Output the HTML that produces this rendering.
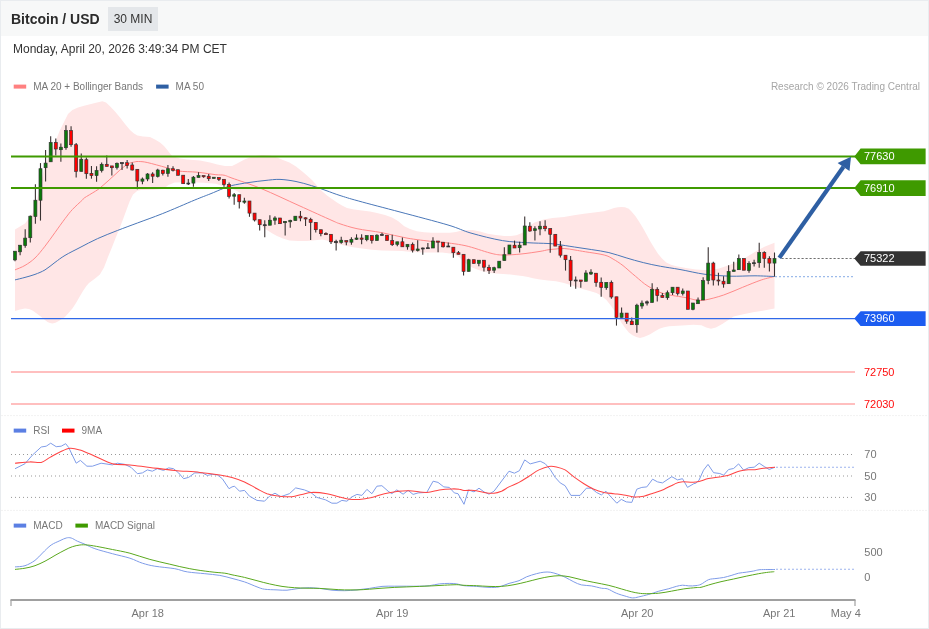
<!DOCTYPE html>
<html><head><meta charset="utf-8"><title>Bitcoin / USD</title>
<style>
html,body{margin:0;padding:0;background:#fff;}
#title,#badge,#date,svg{will-change:transform;}
body{width:929px;height:629px;overflow:hidden;position:relative;font-family:"Liberation Sans",sans-serif;}
#frame{position:absolute;left:0;top:0;width:927px;height:627px;border:1px solid #e9ecef;background:#fff;}
#hdr{position:absolute;left:1px;top:1px;width:927px;height:35px;background:#f7f8f8;}
#title{position:absolute;left:11px;top:11px;font-size:14px;font-weight:bold;color:#2b2b2b;white-space:nowrap;line-height:16px;}
#badge{position:absolute;left:108px;top:7px;width:50px;height:24px;background:#e4e7ea;color:#333;font-size:12px;line-height:25px;text-align:center;white-space:nowrap;}
#date{position:absolute;left:13px;top:42px;font-size:12px;color:#333;white-space:nowrap;line-height:14px;}
svg{position:absolute;left:0;top:0;}
svg text{font-family:"Liberation Sans",sans-serif;}
</style></head><body>
<div id="frame"></div>
<div id="hdr"></div>
<div id="title">Bitcoin / USD</div>
<div id="badge">30 MIN</div>
<div id="date">Monday, April 20, 2026 3:49:34 PM CET</div>
<svg width="929" height="629" viewBox="0 0 929 629">
<polygon points="15.0,229.5 20.0,226.5 25.0,223.5 30.0,217.0 33.0,212.5 37.0,200.0 41.0,182.0 45.0,165.0 50.0,153.0 55.0,142.5 60.0,130.0 65.0,120.0 68.0,114.0 72.4,110.0 78.0,107.5 85.0,105.5 95.0,103.0 102.4,101.2 106.0,102.5 110.0,106.2 115.0,111.5 120.0,117.5 125.0,124.0 130.0,130.0 134.0,133.5 137.4,135.5 143.0,136.5 150.0,137.0 155.0,139.5 160.0,142.5 164.0,146.0 167.3,150.0 170.0,153.5 172.3,156.2 180.0,158.5 187.3,159.4 200.0,160.4 210.0,162.5 217.3,164.4 225.0,166.0 232.0,166.0 238.0,163.0 244.5,159.5 252.0,156.5 262.0,155.0 270.0,155.5 277.0,157.5 283.0,160.0 289.4,162.5 296.0,166.5 302.0,171.2 307.0,175.5 312.0,180.0 316.0,184.5 319.4,188.7 323.0,192.0 327.0,195.4 332.0,199.0 337.0,202.4 342.0,205.5 347.0,208.0 354.0,209.5 362.0,210.4 370.0,211.5 377.0,213.0 385.0,215.0 392.0,217.4 398.0,221.0 404.3,226.2 410.0,229.0 416.8,231.2 424.0,232.3 431.8,232.8 440.0,232.8 450.0,232.8 456.0,232.0 460.7,230.8 466.0,230.2 472.7,230.0 480.0,231.5 487.8,233.8 496.0,235.0 504.4,236.1 511.0,236.0 516.4,235.3 522.5,232.8 528.5,226.3 534.5,222.5 543.6,219.5 552.6,218.0 564.0,217.0 574.0,215.3 584.0,213.7 594.0,212.5 604.0,211.2 609.0,209.8 614.0,208.0 618.0,207.2 621.3,207.0 625.0,207.3 628.8,208.7 631.5,211.5 635.5,216.2 639.0,221.5 642.7,227.5 646.3,234.0 650.2,241.2 654.0,247.5 658.0,253.7 662.0,258.5 666.3,262.4 671.0,264.8 676.3,266.2 686.0,268.0 696.0,269.5 704.0,270.0 711.0,270.0 719.0,268.5 726.5,266.0 734.0,263.3 741.8,260.0 749.0,255.5 757.0,250.8 765.0,246.5 774.5,242.7 774.5,308.6 762.7,310.7 753.0,312.3 743.3,314.2 733.7,316.6 727.2,320.7 722.3,323.9 715.9,327.5 711.0,328.8 706.2,327.5 701.4,325.2 693.3,324.7 682.0,325.5 669.0,326.3 664.0,327.2 659.4,328.8 655.0,331.3 649.7,334.4 643.8,337.0 640.0,338.0 636.3,336.9 632.5,335.3 628.8,332.4 625.0,327.8 621.3,322.4 617.5,316.0 613.9,309.9 610.0,304.5 606.4,299.9 601.0,295.5 596.4,292.9 589.0,290.7 581.4,288.7 572.0,285.5 564.0,283.0 556.0,281.2 548.0,280.6 540.0,279.5 533.0,278.3 528.0,277.0 522.5,276.0 516.0,275.2 510.4,274.5 503.0,274.0 495.3,273.5 489.0,272.7 483.3,271.5 478.0,269.8 472.7,267.7 466.0,263.5 462.0,260.0 459.0,257.0 455.0,254.7 450.0,253.5 442.0,252.4 432.0,252.4 422.0,252.5 412.0,252.0 402.0,251.1 392.0,250.8 382.0,250.4 372.0,249.7 362.0,248.6 353.0,247.2 344.4,245.4 338.0,244.0 332.0,242.4 327.0,240.5 322.0,239.4 315.0,240.3 307.0,241.1 298.0,241.0 289.4,240.4 283.0,238.5 277.0,236.1 272.0,233.3 267.0,230.0 262.0,226.5 257.0,222.4 253.0,218.0 249.5,212.4 244.5,202.0 239.5,192.4 236.0,190.5 232.0,188.7 224.6,186.8 215.9,183.7 203.4,182.7 190.9,182.2 174.7,182.5 168.4,185.0 163.4,189.0 153.5,189.7 141.0,190.0 137.4,190.8 133.0,194.5 129.8,201.0 126.8,209.0 123.7,217.5 119.7,228.0 115.8,237.5 111.7,248.0 107.8,257.4 104.0,267.5 99.9,274.4 96.0,277.8 92.4,280.4 89.0,283.0 86.2,286.2 83.0,291.0 79.9,296.2 76.0,303.0 72.4,308.6 68.5,313.0 64.9,316.9 62.0,319.0 58.7,321.1 55.5,322.8 52.4,323.6 50.0,323.0 47.5,321.9 44.0,319.3 40.0,316.1 36.0,313.0 32.5,310.4 29.0,309.0 25.0,308.6 20.0,309.5 15.0,311.1" fill="#ffe6e6"/>
<path d="M15.0 269.9C16.7 269.1 21.7 267.4 25.0 265.4C28.3 263.4 31.7 261.2 35.0 258.0C38.3 254.8 41.7 250.4 45.0 246.2C48.3 241.9 51.7 237.1 55.0 232.5C58.3 227.9 62.1 222.5 65.0 218.7C67.9 214.9 69.5 212.6 72.4 209.5C75.3 206.4 80.4 201.9 82.4 200.0C84.4 198.1 82.0 199.5 84.2 198.0C86.4 196.5 92.7 192.9 95.4 191.2C98.1 189.5 98.3 189.3 100.4 187.6C102.5 185.9 105.4 183.3 108.0 181.0C110.6 178.7 113.6 175.8 116.0 173.7C118.4 171.5 120.1 169.8 122.2 168.1C124.3 166.4 126.6 164.7 128.5 163.7C130.4 162.7 131.8 162.6 133.5 162.2C135.2 161.8 136.2 161.4 138.5 161.5C140.8 161.6 142.6 161.5 147.2 162.5C151.8 163.5 160.8 166.1 166.0 167.5C171.2 168.9 173.2 170.2 178.4 171.0C183.6 171.8 190.9 171.6 197.2 172.2C203.4 172.8 211.4 174.2 215.9 174.7C220.4 175.2 221.3 174.6 224.0 175.2C226.7 175.8 225.8 175.8 232.0 178.1C238.2 180.3 250.3 184.1 261.5 188.7C272.7 193.3 287.2 200.3 299.0 205.6C310.8 210.9 325.2 217.5 332.0 220.5C338.8 223.5 335.8 222.4 340.0 223.8C344.2 225.2 350.0 227.2 357.0 228.7C364.0 230.2 373.7 231.1 382.0 232.7C390.3 234.3 398.7 236.6 407.0 238.1C415.3 239.6 426.5 240.8 432.0 241.5C437.5 242.2 434.5 241.3 440.0 242.0C445.5 242.7 456.7 243.8 465.0 245.6C473.3 247.4 483.8 251.4 490.0 253.0C496.2 254.6 497.2 254.8 502.4 255.0C507.6 255.2 514.7 254.6 521.0 254.0C527.3 253.4 535.5 252.1 540.0 251.4C544.5 250.7 545.3 250.2 548.0 249.8C550.7 249.4 553.3 249.2 556.0 249.0C558.7 248.8 561.0 248.3 564.2 248.5C567.4 248.7 571.5 249.4 575.0 250.0C578.5 250.6 580.6 251.0 585.5 251.8C590.4 252.6 599.6 253.8 604.2 255.0C608.8 256.2 609.9 257.2 613.0 259.0C616.1 260.8 619.3 262.7 623.0 265.6C626.7 268.5 631.2 272.8 635.4 276.2C639.6 279.6 643.2 283.3 648.0 286.2C652.8 289.1 657.6 291.8 664.0 293.7C670.4 295.6 680.8 296.6 686.1 297.7C691.4 298.8 692.9 299.6 696.0 300.0C699.1 300.4 700.4 300.8 705.0 300.0C709.6 299.2 717.5 297.1 723.7 295.0C729.9 292.9 736.1 289.9 742.4 287.4C748.6 284.9 755.9 281.8 761.2 280.0C766.6 278.2 772.3 277.1 774.5 276.5" fill="none" stroke="#ff8a8a" stroke-width="1"/>
<path d="M15.0 279.9C16.7 279.5 21.7 278.3 25.0 277.4C28.3 276.5 31.7 275.6 35.0 274.4C38.3 273.1 41.7 271.9 45.0 269.9C48.3 267.9 51.7 264.8 55.0 262.4C58.3 260.0 60.8 257.9 65.0 255.4C69.2 252.9 74.6 250.3 80.0 247.5C85.4 244.7 91.2 241.5 97.4 238.7C103.6 235.9 110.7 233.1 117.4 230.5C124.1 227.9 129.9 225.8 137.4 223.0C144.9 220.2 152.7 217.5 162.3 213.7C171.9 209.9 186.9 203.3 194.8 200.0C202.8 196.7 205.2 195.9 210.0 194.0C214.8 192.1 219.8 189.8 223.4 188.4C227.0 187.0 227.2 186.6 231.5 185.6C235.8 184.6 243.4 183.3 249.0 182.5C254.6 181.7 259.8 181.0 265.0 180.5C270.2 180.0 274.8 179.2 280.0 179.4C285.2 179.6 290.8 180.5 296.0 181.5C301.2 182.5 306.4 184.1 311.4 185.6C316.4 187.1 321.2 188.8 326.0 190.5C330.8 192.2 334.6 193.8 340.0 195.5C345.4 197.2 348.2 198.2 358.2 200.9C368.2 203.7 385.0 208.0 400.0 212.0C415.0 216.0 436.2 221.5 448.0 225.0C459.8 228.5 461.9 230.5 471.0 233.1C480.1 235.7 493.0 239.0 502.4 240.6C511.8 242.2 519.8 242.2 527.4 242.7C535.0 243.2 543.0 243.2 548.0 243.5C553.0 243.8 552.8 243.8 557.2 244.4C561.6 245.0 568.6 246.1 574.4 247.0C580.1 247.9 586.0 248.7 591.7 249.6C597.5 250.5 603.2 251.2 608.9 252.6C614.6 254.0 620.4 256.1 626.1 257.8C631.8 259.5 637.5 261.2 643.3 262.6C649.0 264.0 654.5 265.2 660.6 266.3C666.7 267.4 672.6 268.2 680.0 269.5C687.4 270.8 696.7 273.2 705.0 274.3C713.3 275.4 721.7 275.9 730.0 276.2C738.3 276.4 747.6 275.8 755.0 275.8C762.4 275.9 771.2 276.4 774.5 276.5" fill="none" stroke="#4a77b8" stroke-width="1"/>
<line x1="11" y1="372" x2="855" y2="372" stroke="#ffaaaa" stroke-width="1.5"/>
<line x1="11" y1="404" x2="855" y2="404" stroke="#ffaaaa" stroke-width="1.5"/>
<line x1="15.00" y1="251.2" x2="15.00" y2="261.2" stroke="#3a3232" stroke-width="1.1"/>
<rect x="13.50" y="251.2" width="3.0" height="8.7" fill="#0a7a0a" stroke="#333" stroke-width="0.65"/>
<line x1="20.10" y1="245.2" x2="20.10" y2="255.2" stroke="#3a3232" stroke-width="1.1"/>
<rect x="18.60" y="245.2" width="3.0" height="6.6" fill="#0a7a0a" stroke="#333" stroke-width="0.65"/>
<line x1="25.19" y1="229.3" x2="25.19" y2="247.7" stroke="#3a3232" stroke-width="1.1"/>
<rect x="23.69" y="238.1" width="3.0" height="7.5" fill="#0a7a0a" stroke="#333" stroke-width="0.65"/>
<line x1="30.29" y1="215.6" x2="30.29" y2="242.4" stroke="#3a3232" stroke-width="1.1"/>
<rect x="28.79" y="216.2" width="3.0" height="21.5" fill="#0a7a0a" stroke="#333" stroke-width="0.65"/>
<line x1="35.39" y1="184.3" x2="35.39" y2="223.7" stroke="#3a3232" stroke-width="1.1"/>
<rect x="33.89" y="200.2" width="3.0" height="16.3" fill="#0a7a0a" stroke="#333" stroke-width="0.65"/>
<line x1="40.49" y1="163.1" x2="40.49" y2="220.6" stroke="#3a3232" stroke-width="1.1"/>
<rect x="38.99" y="168.7" width="3.0" height="31.5" fill="#0a7a0a" stroke="#333" stroke-width="0.65"/>
<line x1="45.58" y1="150.0" x2="45.58" y2="181.4" stroke="#3a3232" stroke-width="1.1"/>
<rect x="44.08" y="163.1" width="3.0" height="4.6" fill="#0a7a0a" stroke="#333" stroke-width="0.65"/>
<line x1="50.68" y1="136.2" x2="50.68" y2="161.8" stroke="#3a3232" stroke-width="1.1"/>
<rect x="49.18" y="142.5" width="3.0" height="19.3" fill="#0a7a0a" stroke="#333" stroke-width="0.65"/>
<line x1="55.78" y1="138.5" x2="55.78" y2="155.6" stroke="#3a3232" stroke-width="1.1"/>
<rect x="54.28" y="142.5" width="3.0" height="6.5" fill="#ff0000" stroke="#333" stroke-width="0.65"/>
<line x1="60.88" y1="143.5" x2="60.88" y2="161.8" stroke="#3a3232" stroke-width="1.1"/>
<rect x="59.38" y="147.2" width="3.0" height="2.5" fill="#0a7a0a" stroke="#333" stroke-width="0.65"/>
<line x1="65.97" y1="125.2" x2="65.97" y2="149.7" stroke="#3a3232" stroke-width="1.1"/>
<rect x="64.47" y="130.6" width="3.0" height="17.1" fill="#0a7a0a" stroke="#333" stroke-width="0.65"/>
<line x1="71.07" y1="126.2" x2="71.07" y2="146.8" stroke="#3a3232" stroke-width="1.1"/>
<rect x="69.57" y="130.6" width="3.0" height="14.1" fill="#ff0000" stroke="#333" stroke-width="0.65"/>
<line x1="76.17" y1="143.1" x2="76.17" y2="177.4" stroke="#3a3232" stroke-width="1.1"/>
<rect x="74.67" y="144.7" width="3.0" height="26.7" fill="#ff0000" stroke="#333" stroke-width="0.65"/>
<line x1="81.26" y1="153.5" x2="81.26" y2="171.4" stroke="#3a3232" stroke-width="1.1"/>
<rect x="79.76" y="159.3" width="3.0" height="12.1" fill="#0a7a0a" stroke="#333" stroke-width="0.65"/>
<line x1="86.36" y1="157.5" x2="86.36" y2="178.7" stroke="#3a3232" stroke-width="1.1"/>
<rect x="84.86" y="159.7" width="3.0" height="14.0" fill="#ff0000" stroke="#333" stroke-width="0.65"/>
<line x1="91.46" y1="166.0" x2="91.46" y2="178.7" stroke="#3a3232" stroke-width="1.1"/>
<rect x="89.96" y="173.4" width="3.0" height="2.2" fill="#ff0000" stroke="#333" stroke-width="0.65"/>
<line x1="96.56" y1="166.2" x2="96.56" y2="181.8" stroke="#3a3232" stroke-width="1.1"/>
<rect x="95.06" y="170.6" width="3.0" height="5.0" fill="#0a7a0a" stroke="#333" stroke-width="0.65"/>
<line x1="101.65" y1="162.5" x2="101.65" y2="172.4" stroke="#3a3232" stroke-width="1.1"/>
<rect x="100.15" y="164.3" width="3.0" height="6.3" fill="#0a7a0a" stroke="#333" stroke-width="0.65"/>
<line x1="106.75" y1="155.6" x2="106.75" y2="166.4" stroke="#3a3232" stroke-width="1.1"/>
<rect x="105.25" y="164.3" width="3.0" height="2.1" fill="#ff0000" stroke="#333" stroke-width="0.65"/>
<line x1="111.85" y1="165.9" x2="111.85" y2="175.6" stroke="#3a3232" stroke-width="1.1"/>
<rect x="110.35" y="165.9" width="3.0" height="1.8" fill="#ff0000" stroke="#333" stroke-width="0.65"/>
<line x1="116.95" y1="162.5" x2="116.95" y2="169.5" stroke="#3a3232" stroke-width="1.1"/>
<rect x="115.45" y="163.3" width="3.0" height="4.3" fill="#0a7a0a" stroke="#333" stroke-width="0.65"/>
<line x1="122.04" y1="162.5" x2="122.04" y2="170.0" stroke="#3a3232" stroke-width="1.1"/>
<rect x="120.54" y="162.5" width="3.0" height="1.2" fill="#333333" stroke="#333" stroke-width="0.65"/>
<line x1="127.14" y1="160.0" x2="127.14" y2="168.5" stroke="#3a3232" stroke-width="1.1"/>
<rect x="125.64" y="162.7" width="3.0" height="2.9" fill="#ff0000" stroke="#333" stroke-width="0.65"/>
<line x1="132.24" y1="162.5" x2="132.24" y2="170.5" stroke="#3a3232" stroke-width="1.1"/>
<rect x="130.74" y="165.0" width="3.0" height="5.0" fill="#ff0000" stroke="#333" stroke-width="0.65"/>
<line x1="137.34" y1="169.3" x2="137.34" y2="189.3" stroke="#3a3232" stroke-width="1.1"/>
<rect x="135.84" y="169.3" width="3.0" height="11.7" fill="#ff0000" stroke="#333" stroke-width="0.65"/>
<line x1="142.43" y1="177.5" x2="142.43" y2="184.3" stroke="#3a3232" stroke-width="1.1"/>
<rect x="140.93" y="179.0" width="3.0" height="2.2" fill="#0a7a0a" stroke="#333" stroke-width="0.65"/>
<line x1="147.53" y1="173.1" x2="147.53" y2="181.2" stroke="#3a3232" stroke-width="1.1"/>
<rect x="146.03" y="174.0" width="3.0" height="5.0" fill="#0a7a0a" stroke="#333" stroke-width="0.65"/>
<line x1="152.63" y1="172.2" x2="152.63" y2="183.1" stroke="#3a3232" stroke-width="1.1"/>
<rect x="151.13" y="174.0" width="3.0" height="2.2" fill="#ff0000" stroke="#333" stroke-width="0.65"/>
<line x1="157.72" y1="168.7" x2="157.72" y2="177.5" stroke="#3a3232" stroke-width="1.1"/>
<rect x="156.22" y="170.0" width="3.0" height="6.5" fill="#0a7a0a" stroke="#333" stroke-width="0.65"/>
<line x1="162.82" y1="169.7" x2="162.82" y2="175.6" stroke="#3a3232" stroke-width="1.1"/>
<rect x="161.32" y="170.2" width="3.0" height="3.3" fill="#ff0000" stroke="#333" stroke-width="0.65"/>
<line x1="167.92" y1="165.0" x2="167.92" y2="176.8" stroke="#3a3232" stroke-width="1.1"/>
<rect x="166.42" y="168.7" width="3.0" height="4.8" fill="#0a7a0a" stroke="#333" stroke-width="0.65"/>
<line x1="173.02" y1="166.2" x2="173.02" y2="171.5" stroke="#3a3232" stroke-width="1.1"/>
<rect x="171.52" y="168.7" width="3.0" height="1.6" fill="#ff0000" stroke="#333" stroke-width="0.65"/>
<line x1="178.11" y1="169.7" x2="178.11" y2="175.3" stroke="#3a3232" stroke-width="1.1"/>
<rect x="176.61" y="169.7" width="3.0" height="5.6" fill="#ff0000" stroke="#333" stroke-width="0.65"/>
<line x1="183.21" y1="175.2" x2="183.21" y2="183.7" stroke="#3a3232" stroke-width="1.1"/>
<rect x="181.71" y="175.2" width="3.0" height="8.5" fill="#ff0000" stroke="#333" stroke-width="0.65"/>
<line x1="188.31" y1="179.0" x2="188.31" y2="185.0" stroke="#3a3232" stroke-width="1.1"/>
<rect x="186.81" y="183.0" width="3.0" height="1.0" fill="#333333" stroke="#333" stroke-width="0.65"/>
<line x1="193.41" y1="176.0" x2="193.41" y2="186.8" stroke="#3a3232" stroke-width="1.1"/>
<rect x="191.91" y="177.2" width="3.0" height="5.9" fill="#0a7a0a" stroke="#333" stroke-width="0.65"/>
<line x1="198.50" y1="172.2" x2="198.50" y2="177.5" stroke="#3a3232" stroke-width="1.1"/>
<rect x="197.00" y="175.6" width="3.0" height="1.9" fill="#0a7a0a" stroke="#333" stroke-width="0.65"/>
<line x1="203.60" y1="175.6" x2="203.60" y2="177.7" stroke="#3a3232" stroke-width="1.1"/>
<rect x="202.10" y="175.6" width="3.0" height="1.2" fill="#ff0000" stroke="#333" stroke-width="0.65"/>
<line x1="208.70" y1="174.0" x2="208.70" y2="181.0" stroke="#3a3232" stroke-width="1.1"/>
<rect x="207.20" y="176.2" width="3.0" height="2.5" fill="#ff0000" stroke="#333" stroke-width="0.65"/>
<line x1="213.79" y1="177.2" x2="213.79" y2="178.5" stroke="#3a3232" stroke-width="1.1"/>
<rect x="212.29" y="177.2" width="3.0" height="1.3" fill="#0a7a0a" stroke="#333" stroke-width="0.65"/>
<line x1="218.89" y1="177.5" x2="218.89" y2="181.0" stroke="#3a3232" stroke-width="1.1"/>
<rect x="217.39" y="177.5" width="3.0" height="1.8" fill="#ff0000" stroke="#333" stroke-width="0.65"/>
<line x1="223.99" y1="179.3" x2="223.99" y2="186.8" stroke="#3a3232" stroke-width="1.1"/>
<rect x="222.49" y="179.3" width="3.0" height="5.2" fill="#ff0000" stroke="#333" stroke-width="0.65"/>
<line x1="229.09" y1="182.5" x2="229.09" y2="198.6" stroke="#3a3232" stroke-width="1.1"/>
<rect x="227.59" y="184.4" width="3.0" height="12.0" fill="#ff0000" stroke="#333" stroke-width="0.65"/>
<line x1="234.18" y1="193.1" x2="234.18" y2="204.7" stroke="#3a3232" stroke-width="1.1"/>
<rect x="232.68" y="194.7" width="3.0" height="1.5" fill="#0a7a0a" stroke="#333" stroke-width="0.65"/>
<line x1="239.28" y1="194.7" x2="239.28" y2="208.5" stroke="#3a3232" stroke-width="1.1"/>
<rect x="237.78" y="194.7" width="3.0" height="7.1" fill="#ff0000" stroke="#333" stroke-width="0.65"/>
<line x1="244.38" y1="197.7" x2="244.38" y2="203.7" stroke="#3a3232" stroke-width="1.1"/>
<rect x="242.88" y="201.0" width="3.0" height="1.2" fill="#0a7a0a" stroke="#333" stroke-width="0.65"/>
<line x1="249.48" y1="201.0" x2="249.48" y2="216.8" stroke="#3a3232" stroke-width="1.1"/>
<rect x="247.98" y="201.0" width="3.0" height="12.1" fill="#ff0000" stroke="#333" stroke-width="0.65"/>
<line x1="254.57" y1="213.1" x2="254.57" y2="221.4" stroke="#3a3232" stroke-width="1.1"/>
<rect x="253.07" y="213.1" width="3.0" height="6.9" fill="#ff0000" stroke="#333" stroke-width="0.65"/>
<line x1="259.67" y1="219.7" x2="259.67" y2="230.6" stroke="#3a3232" stroke-width="1.1"/>
<rect x="258.17" y="219.7" width="3.0" height="5.0" fill="#ff0000" stroke="#333" stroke-width="0.65"/>
<line x1="264.77" y1="220.2" x2="264.77" y2="237.2" stroke="#3a3232" stroke-width="1.1"/>
<rect x="263.27" y="224.7" width="3.0" height="1.0" fill="#333333" stroke="#333" stroke-width="0.65"/>
<line x1="269.87" y1="215.2" x2="269.87" y2="225.2" stroke="#3a3232" stroke-width="1.1"/>
<rect x="268.37" y="220.2" width="3.0" height="5.0" fill="#0a7a0a" stroke="#333" stroke-width="0.65"/>
<line x1="274.96" y1="216.2" x2="274.96" y2="224.7" stroke="#3a3232" stroke-width="1.1"/>
<rect x="273.46" y="218.0" width="3.0" height="2.2" fill="#0a7a0a" stroke="#333" stroke-width="0.65"/>
<line x1="280.06" y1="218.0" x2="280.06" y2="223.7" stroke="#3a3232" stroke-width="1.1"/>
<rect x="278.56" y="218.0" width="3.0" height="5.7" fill="#ff0000" stroke="#333" stroke-width="0.65"/>
<line x1="285.16" y1="221.0" x2="285.16" y2="235.5" stroke="#3a3232" stroke-width="1.1"/>
<rect x="283.66" y="221.4" width="3.0" height="1.3" fill="#0a7a0a" stroke="#333" stroke-width="0.65"/>
<line x1="290.25" y1="219.7" x2="290.25" y2="227.7" stroke="#3a3232" stroke-width="1.1"/>
<rect x="288.75" y="220.3" width="3.0" height="1.5" fill="#0a7a0a" stroke="#333" stroke-width="0.65"/>
<line x1="295.35" y1="216.2" x2="295.35" y2="220.6" stroke="#3a3232" stroke-width="1.1"/>
<rect x="293.85" y="216.2" width="3.0" height="4.4" fill="#0a7a0a" stroke="#333" stroke-width="0.65"/>
<line x1="300.45" y1="211.0" x2="300.45" y2="221.2" stroke="#3a3232" stroke-width="1.1"/>
<rect x="298.95" y="216.2" width="3.0" height="1.8" fill="#ff0000" stroke="#333" stroke-width="0.65"/>
<line x1="305.55" y1="217.2" x2="305.55" y2="226.0" stroke="#3a3232" stroke-width="1.1"/>
<rect x="304.05" y="217.8" width="3.0" height="1.2" fill="#ff0000" stroke="#333" stroke-width="0.65"/>
<line x1="310.64" y1="217.7" x2="310.64" y2="240.0" stroke="#3a3232" stroke-width="1.1"/>
<rect x="309.14" y="219.3" width="3.0" height="3.1" fill="#ff0000" stroke="#333" stroke-width="0.65"/>
<line x1="315.74" y1="222.4" x2="315.74" y2="232.4" stroke="#3a3232" stroke-width="1.1"/>
<rect x="314.24" y="222.4" width="3.0" height="7.3" fill="#ff0000" stroke="#333" stroke-width="0.65"/>
<line x1="320.84" y1="229.7" x2="320.84" y2="236.2" stroke="#3a3232" stroke-width="1.1"/>
<rect x="319.34" y="229.7" width="3.0" height="4.0" fill="#ff0000" stroke="#333" stroke-width="0.65"/>
<line x1="325.94" y1="232.2" x2="325.94" y2="234.7" stroke="#3a3232" stroke-width="1.1"/>
<rect x="324.44" y="233.4" width="3.0" height="1.3" fill="#ff0000" stroke="#333" stroke-width="0.65"/>
<line x1="331.03" y1="234.3" x2="331.03" y2="243.9" stroke="#3a3232" stroke-width="1.1"/>
<rect x="329.53" y="234.3" width="3.0" height="7.5" fill="#ff0000" stroke="#333" stroke-width="0.65"/>
<line x1="336.13" y1="239.8" x2="336.13" y2="250.6" stroke="#3a3232" stroke-width="1.1"/>
<rect x="334.63" y="241.4" width="3.0" height="1.3" fill="#333333" stroke="#333" stroke-width="0.65"/>
<line x1="341.23" y1="236.8" x2="341.23" y2="243.7" stroke="#3a3232" stroke-width="1.1"/>
<rect x="339.73" y="240.2" width="3.0" height="2.2" fill="#0a7a0a" stroke="#333" stroke-width="0.65"/>
<line x1="346.32" y1="240.6" x2="346.32" y2="245.2" stroke="#3a3232" stroke-width="1.1"/>
<rect x="344.82" y="240.6" width="3.0" height="1.4" fill="#ff0000" stroke="#333" stroke-width="0.65"/>
<line x1="351.42" y1="237.2" x2="351.42" y2="244.7" stroke="#3a3232" stroke-width="1.1"/>
<rect x="349.92" y="239.3" width="3.0" height="2.9" fill="#0a7a0a" stroke="#333" stroke-width="0.65"/>
<line x1="356.52" y1="234.3" x2="356.52" y2="240.0" stroke="#3a3232" stroke-width="1.1"/>
<rect x="355.02" y="238.0" width="3.0" height="1.3" fill="#0a7a0a" stroke="#333" stroke-width="0.65"/>
<line x1="361.62" y1="234.3" x2="361.62" y2="244.3" stroke="#3a3232" stroke-width="1.1"/>
<rect x="360.12" y="238.0" width="3.0" height="1.3" fill="#ff0000" stroke="#333" stroke-width="0.65"/>
<line x1="366.71" y1="235.6" x2="366.71" y2="241.2" stroke="#3a3232" stroke-width="1.1"/>
<rect x="365.21" y="235.6" width="3.0" height="4.1" fill="#0a7a0a" stroke="#333" stroke-width="0.65"/>
<line x1="371.81" y1="235.6" x2="371.81" y2="243.4" stroke="#3a3232" stroke-width="1.1"/>
<rect x="370.31" y="235.6" width="3.0" height="5.0" fill="#ff0000" stroke="#333" stroke-width="0.65"/>
<line x1="376.91" y1="234.3" x2="376.91" y2="240.6" stroke="#3a3232" stroke-width="1.1"/>
<rect x="375.41" y="235.2" width="3.0" height="5.4" fill="#0a7a0a" stroke="#333" stroke-width="0.65"/>
<line x1="382.01" y1="232.7" x2="382.01" y2="235.6" stroke="#3a3232" stroke-width="1.1"/>
<rect x="380.51" y="234.3" width="3.0" height="1.3" fill="#333333" stroke="#333" stroke-width="0.65"/>
<line x1="387.10" y1="235.2" x2="387.10" y2="240.6" stroke="#3a3232" stroke-width="1.1"/>
<rect x="385.60" y="235.2" width="3.0" height="5.4" fill="#ff0000" stroke="#333" stroke-width="0.65"/>
<line x1="392.20" y1="234.7" x2="392.20" y2="246.0" stroke="#3a3232" stroke-width="1.1"/>
<rect x="390.70" y="240.6" width="3.0" height="4.1" fill="#ff0000" stroke="#333" stroke-width="0.65"/>
<line x1="397.30" y1="241.8" x2="397.30" y2="246.2" stroke="#3a3232" stroke-width="1.1"/>
<rect x="395.80" y="241.8" width="3.0" height="2.5" fill="#0a7a0a" stroke="#333" stroke-width="0.65"/>
<line x1="402.39" y1="237.5" x2="402.39" y2="246.8" stroke="#3a3232" stroke-width="1.1"/>
<rect x="400.89" y="241.8" width="3.0" height="5.0" fill="#ff0000" stroke="#333" stroke-width="0.65"/>
<line x1="407.49" y1="244.3" x2="407.49" y2="249.7" stroke="#3a3232" stroke-width="1.1"/>
<rect x="405.99" y="244.3" width="3.0" height="2.5" fill="#0a7a0a" stroke="#333" stroke-width="0.65"/>
<line x1="412.59" y1="242.5" x2="412.59" y2="252.4" stroke="#3a3232" stroke-width="1.1"/>
<rect x="411.09" y="244.3" width="3.0" height="5.9" fill="#ff0000" stroke="#333" stroke-width="0.65"/>
<line x1="417.69" y1="240.2" x2="417.69" y2="251.4" stroke="#3a3232" stroke-width="1.1"/>
<rect x="416.19" y="249.0" width="3.0" height="1.6" fill="#0a7a0a" stroke="#333" stroke-width="0.65"/>
<line x1="422.78" y1="247.4" x2="422.78" y2="254.7" stroke="#3a3232" stroke-width="1.1"/>
<rect x="421.28" y="248.0" width="3.0" height="1.0" fill="#333333" stroke="#333" stroke-width="0.65"/>
<line x1="427.88" y1="243.0" x2="427.88" y2="248.7" stroke="#3a3232" stroke-width="1.1"/>
<rect x="426.38" y="247.7" width="3.0" height="1.0" fill="#333333" stroke="#333" stroke-width="0.65"/>
<line x1="432.98" y1="237.2" x2="432.98" y2="248.0" stroke="#3a3232" stroke-width="1.1"/>
<rect x="431.48" y="241.0" width="3.0" height="7.0" fill="#0a7a0a" stroke="#333" stroke-width="0.65"/>
<line x1="438.08" y1="241.0" x2="438.08" y2="252.2" stroke="#3a3232" stroke-width="1.1"/>
<rect x="436.58" y="241.0" width="3.0" height="1.2" fill="#ff0000" stroke="#333" stroke-width="0.65"/>
<line x1="443.17" y1="242.2" x2="443.17" y2="247.4" stroke="#3a3232" stroke-width="1.1"/>
<rect x="441.67" y="242.2" width="3.0" height="4.6" fill="#ff0000" stroke="#333" stroke-width="0.65"/>
<line x1="448.27" y1="242.5" x2="448.27" y2="246.8" stroke="#3a3232" stroke-width="1.1"/>
<rect x="446.77" y="246.0" width="3.0" height="1.0" fill="#333333" stroke="#333" stroke-width="0.65"/>
<line x1="453.37" y1="247.2" x2="453.37" y2="257.7" stroke="#3a3232" stroke-width="1.1"/>
<rect x="451.87" y="247.2" width="3.0" height="5.5" fill="#ff0000" stroke="#333" stroke-width="0.65"/>
<line x1="458.47" y1="251.0" x2="458.47" y2="254.3" stroke="#3a3232" stroke-width="1.1"/>
<rect x="456.97" y="252.7" width="3.0" height="1.6" fill="#ff0000" stroke="#333" stroke-width="0.65"/>
<line x1="463.56" y1="254.3" x2="463.56" y2="275.5" stroke="#3a3232" stroke-width="1.1"/>
<rect x="462.06" y="254.3" width="3.0" height="17.1" fill="#ff0000" stroke="#333" stroke-width="0.65"/>
<line x1="468.66" y1="258.7" x2="468.66" y2="271.4" stroke="#3a3232" stroke-width="1.1"/>
<rect x="467.16" y="259.7" width="3.0" height="11.7" fill="#0a7a0a" stroke="#333" stroke-width="0.65"/>
<line x1="473.76" y1="259.7" x2="473.76" y2="263.4" stroke="#3a3232" stroke-width="1.1"/>
<rect x="472.26" y="259.7" width="3.0" height="3.7" fill="#ff0000" stroke="#333" stroke-width="0.65"/>
<line x1="478.85" y1="260.2" x2="478.85" y2="266.2" stroke="#3a3232" stroke-width="1.1"/>
<rect x="477.35" y="260.2" width="3.0" height="3.2" fill="#0a7a0a" stroke="#333" stroke-width="0.65"/>
<line x1="483.95" y1="260.2" x2="483.95" y2="271.4" stroke="#3a3232" stroke-width="1.1"/>
<rect x="482.45" y="260.2" width="3.0" height="7.0" fill="#ff0000" stroke="#333" stroke-width="0.65"/>
<line x1="489.05" y1="264.7" x2="489.05" y2="273.9" stroke="#3a3232" stroke-width="1.1"/>
<rect x="487.55" y="267.4" width="3.0" height="3.2" fill="#ff0000" stroke="#333" stroke-width="0.65"/>
<line x1="494.15" y1="266.8" x2="494.15" y2="273.0" stroke="#3a3232" stroke-width="1.1"/>
<rect x="492.65" y="267.7" width="3.0" height="2.5" fill="#0a7a0a" stroke="#333" stroke-width="0.65"/>
<line x1="499.24" y1="261.2" x2="499.24" y2="268.0" stroke="#3a3232" stroke-width="1.1"/>
<rect x="497.74" y="261.2" width="3.0" height="6.8" fill="#0a7a0a" stroke="#333" stroke-width="0.65"/>
<line x1="504.34" y1="247.2" x2="504.34" y2="260.6" stroke="#3a3232" stroke-width="1.1"/>
<rect x="502.84" y="254.7" width="3.0" height="5.9" fill="#0a7a0a" stroke="#333" stroke-width="0.65"/>
<line x1="509.44" y1="245.0" x2="509.44" y2="254.0" stroke="#3a3232" stroke-width="1.1"/>
<rect x="507.94" y="245.0" width="3.0" height="9.0" fill="#0a7a0a" stroke="#333" stroke-width="0.65"/>
<line x1="514.54" y1="240.6" x2="514.54" y2="248.0" stroke="#3a3232" stroke-width="1.1"/>
<rect x="513.04" y="245.2" width="3.0" height="2.8" fill="#ff0000" stroke="#333" stroke-width="0.65"/>
<line x1="519.63" y1="241.8" x2="519.63" y2="252.4" stroke="#3a3232" stroke-width="1.1"/>
<rect x="518.13" y="245.2" width="3.0" height="2.5" fill="#0a7a0a" stroke="#333" stroke-width="0.65"/>
<line x1="524.73" y1="216.5" x2="524.73" y2="245.0" stroke="#3a3232" stroke-width="1.1"/>
<rect x="523.23" y="226.0" width="3.0" height="19.0" fill="#0a7a0a" stroke="#333" stroke-width="0.65"/>
<line x1="529.83" y1="222.2" x2="529.83" y2="231.8" stroke="#3a3232" stroke-width="1.1"/>
<rect x="528.33" y="226.2" width="3.0" height="4.8" fill="#ff0000" stroke="#333" stroke-width="0.65"/>
<line x1="534.92" y1="226.2" x2="534.92" y2="240.6" stroke="#3a3232" stroke-width="1.1"/>
<rect x="533.42" y="228.7" width="3.0" height="1.9" fill="#0a7a0a" stroke="#333" stroke-width="0.65"/>
<line x1="540.02" y1="221.2" x2="540.02" y2="235.2" stroke="#3a3232" stroke-width="1.1"/>
<rect x="538.52" y="226.2" width="3.0" height="2.8" fill="#0a7a0a" stroke="#333" stroke-width="0.65"/>
<line x1="545.12" y1="220.2" x2="545.12" y2="231.2" stroke="#3a3232" stroke-width="1.1"/>
<rect x="543.62" y="226.2" width="3.0" height="2.5" fill="#ff0000" stroke="#333" stroke-width="0.65"/>
<line x1="550.22" y1="228.5" x2="550.22" y2="252.7" stroke="#3a3232" stroke-width="1.1"/>
<rect x="548.72" y="228.5" width="3.0" height="5.8" fill="#ff0000" stroke="#333" stroke-width="0.65"/>
<line x1="555.31" y1="234.3" x2="555.31" y2="246.1" stroke="#3a3232" stroke-width="1.1"/>
<rect x="553.81" y="234.3" width="3.0" height="11.8" fill="#ff0000" stroke="#333" stroke-width="0.65"/>
<line x1="560.41" y1="241.0" x2="560.41" y2="257.5" stroke="#3a3232" stroke-width="1.1"/>
<rect x="558.91" y="246.0" width="3.0" height="9.2" fill="#ff0000" stroke="#333" stroke-width="0.65"/>
<line x1="565.51" y1="255.2" x2="565.51" y2="270.6" stroke="#3a3232" stroke-width="1.1"/>
<rect x="564.01" y="255.2" width="3.0" height="4.5" fill="#ff0000" stroke="#333" stroke-width="0.65"/>
<line x1="570.61" y1="256.0" x2="570.61" y2="286.8" stroke="#3a3232" stroke-width="1.1"/>
<rect x="569.11" y="260.2" width="3.0" height="20.4" fill="#ff0000" stroke="#333" stroke-width="0.65"/>
<line x1="575.70" y1="276.4" x2="575.70" y2="288.7" stroke="#3a3232" stroke-width="1.1"/>
<rect x="574.20" y="280.0" width="3.0" height="1.0" fill="#333333" stroke="#333" stroke-width="0.65"/>
<line x1="580.80" y1="280.0" x2="580.80" y2="287.7" stroke="#3a3232" stroke-width="1.1"/>
<rect x="579.30" y="280.0" width="3.0" height="1.4" fill="#ff0000" stroke="#333" stroke-width="0.65"/>
<line x1="585.90" y1="270.3" x2="585.90" y2="281.3" stroke="#3a3232" stroke-width="1.1"/>
<rect x="584.40" y="273.0" width="3.0" height="8.3" fill="#0a7a0a" stroke="#333" stroke-width="0.65"/>
<line x1="590.99" y1="269.2" x2="590.99" y2="275.0" stroke="#3a3232" stroke-width="1.1"/>
<rect x="589.49" y="272.2" width="3.0" height="1.8" fill="#0a7a0a" stroke="#333" stroke-width="0.65"/>
<line x1="596.09" y1="273.2" x2="596.09" y2="286.8" stroke="#3a3232" stroke-width="1.1"/>
<rect x="594.59" y="273.2" width="3.0" height="9.4" fill="#ff0000" stroke="#333" stroke-width="0.65"/>
<line x1="601.19" y1="277.4" x2="601.19" y2="296.8" stroke="#3a3232" stroke-width="1.1"/>
<rect x="599.69" y="282.3" width="3.0" height="5.1" fill="#ff0000" stroke="#333" stroke-width="0.65"/>
<line x1="606.29" y1="282.4" x2="606.29" y2="289.7" stroke="#3a3232" stroke-width="1.1"/>
<rect x="604.79" y="282.4" width="3.0" height="5.3" fill="#0a7a0a" stroke="#333" stroke-width="0.65"/>
<line x1="611.38" y1="280.4" x2="611.38" y2="298.7" stroke="#3a3232" stroke-width="1.1"/>
<rect x="609.88" y="282.4" width="3.0" height="14.6" fill="#ff0000" stroke="#333" stroke-width="0.65"/>
<line x1="616.48" y1="296.8" x2="616.48" y2="325.6" stroke="#3a3232" stroke-width="1.1"/>
<rect x="614.98" y="296.8" width="3.0" height="20.6" fill="#ff0000" stroke="#333" stroke-width="0.65"/>
<line x1="621.58" y1="307.5" x2="621.58" y2="317.4" stroke="#3a3232" stroke-width="1.1"/>
<rect x="620.08" y="313.1" width="3.0" height="4.3" fill="#0a7a0a" stroke="#333" stroke-width="0.65"/>
<line x1="626.68" y1="313.1" x2="626.68" y2="323.7" stroke="#3a3232" stroke-width="1.1"/>
<rect x="625.18" y="313.1" width="3.0" height="8.1" fill="#ff0000" stroke="#333" stroke-width="0.65"/>
<line x1="631.77" y1="317.4" x2="631.77" y2="324.7" stroke="#3a3232" stroke-width="1.1"/>
<rect x="630.27" y="321.2" width="3.0" height="3.5" fill="#ff0000" stroke="#333" stroke-width="0.65"/>
<line x1="636.87" y1="303.7" x2="636.87" y2="332.7" stroke="#3a3232" stroke-width="1.1"/>
<rect x="635.37" y="305.2" width="3.0" height="19.5" fill="#0a7a0a" stroke="#333" stroke-width="0.65"/>
<line x1="641.97" y1="300.6" x2="641.97" y2="308.7" stroke="#3a3232" stroke-width="1.1"/>
<rect x="640.47" y="303.1" width="3.0" height="2.9" fill="#0a7a0a" stroke="#333" stroke-width="0.65"/>
<line x1="647.07" y1="300.6" x2="647.07" y2="305.6" stroke="#3a3232" stroke-width="1.1"/>
<rect x="645.57" y="301.8" width="3.0" height="1.3" fill="#333333" stroke="#333" stroke-width="0.65"/>
<line x1="652.16" y1="283.2" x2="652.16" y2="302.5" stroke="#3a3232" stroke-width="1.1"/>
<rect x="650.66" y="289.3" width="3.0" height="13.2" fill="#0a7a0a" stroke="#333" stroke-width="0.65"/>
<line x1="657.26" y1="287.3" x2="657.26" y2="301.6" stroke="#3a3232" stroke-width="1.1"/>
<rect x="655.76" y="289.3" width="3.0" height="6.3" fill="#ff0000" stroke="#333" stroke-width="0.65"/>
<line x1="662.36" y1="293.1" x2="662.36" y2="297.5" stroke="#3a3232" stroke-width="1.1"/>
<rect x="660.86" y="295.6" width="3.0" height="1.9" fill="#ff0000" stroke="#333" stroke-width="0.65"/>
<line x1="667.45" y1="290.6" x2="667.45" y2="299.7" stroke="#3a3232" stroke-width="1.1"/>
<rect x="665.95" y="292.7" width="3.0" height="5.0" fill="#0a7a0a" stroke="#333" stroke-width="0.65"/>
<line x1="672.55" y1="287.2" x2="672.55" y2="295.0" stroke="#3a3232" stroke-width="1.1"/>
<rect x="671.05" y="287.2" width="3.0" height="5.5" fill="#0a7a0a" stroke="#333" stroke-width="0.65"/>
<line x1="677.65" y1="287.2" x2="677.65" y2="295.6" stroke="#3a3232" stroke-width="1.1"/>
<rect x="676.15" y="287.2" width="3.0" height="6.3" fill="#ff0000" stroke="#333" stroke-width="0.65"/>
<line x1="682.75" y1="288.5" x2="682.75" y2="295.6" stroke="#3a3232" stroke-width="1.1"/>
<rect x="681.25" y="291.0" width="3.0" height="2.5" fill="#0a7a0a" stroke="#333" stroke-width="0.65"/>
<line x1="687.84" y1="291.0" x2="687.84" y2="309.3" stroke="#3a3232" stroke-width="1.1"/>
<rect x="686.34" y="291.0" width="3.0" height="18.3" fill="#ff0000" stroke="#333" stroke-width="0.65"/>
<line x1="692.94" y1="303.0" x2="692.94" y2="310.2" stroke="#3a3232" stroke-width="1.1"/>
<rect x="691.44" y="303.0" width="3.0" height="6.3" fill="#0a7a0a" stroke="#333" stroke-width="0.65"/>
<line x1="698.04" y1="297.4" x2="698.04" y2="303.7" stroke="#3a3232" stroke-width="1.1"/>
<rect x="696.54" y="300.0" width="3.0" height="3.7" fill="#0a7a0a" stroke="#333" stroke-width="0.65"/>
<line x1="703.14" y1="277.2" x2="703.14" y2="300.0" stroke="#3a3232" stroke-width="1.1"/>
<rect x="701.64" y="280.6" width="3.0" height="19.4" fill="#0a7a0a" stroke="#333" stroke-width="0.65"/>
<line x1="708.23" y1="247.2" x2="708.23" y2="284.3" stroke="#3a3232" stroke-width="1.1"/>
<rect x="706.73" y="263.1" width="3.0" height="17.5" fill="#0a7a0a" stroke="#333" stroke-width="0.65"/>
<line x1="713.33" y1="261.8" x2="713.33" y2="285.6" stroke="#3a3232" stroke-width="1.1"/>
<rect x="711.83" y="263.1" width="3.0" height="16.9" fill="#ff0000" stroke="#333" stroke-width="0.65"/>
<line x1="718.43" y1="272.7" x2="718.43" y2="285.6" stroke="#3a3232" stroke-width="1.1"/>
<rect x="716.93" y="280.0" width="3.0" height="1.0" fill="#ff0000" stroke="#333" stroke-width="0.65"/>
<line x1="723.52" y1="276.2" x2="723.52" y2="287.7" stroke="#3a3232" stroke-width="1.1"/>
<rect x="722.02" y="281.2" width="3.0" height="2.8" fill="#ff0000" stroke="#333" stroke-width="0.65"/>
<line x1="728.62" y1="265.2" x2="728.62" y2="283.7" stroke="#3a3232" stroke-width="1.1"/>
<rect x="727.12" y="271.5" width="3.0" height="12.2" fill="#0a7a0a" stroke="#333" stroke-width="0.65"/>
<line x1="733.72" y1="261.8" x2="733.72" y2="271.5" stroke="#3a3232" stroke-width="1.1"/>
<rect x="732.22" y="270.0" width="3.0" height="1.5" fill="#0a7a0a" stroke="#333" stroke-width="0.65"/>
<line x1="738.82" y1="254.4" x2="738.82" y2="269.7" stroke="#3a3232" stroke-width="1.1"/>
<rect x="737.32" y="258.5" width="3.0" height="11.2" fill="#0a7a0a" stroke="#333" stroke-width="0.65"/>
<line x1="743.91" y1="258.5" x2="743.91" y2="270.2" stroke="#3a3232" stroke-width="1.1"/>
<rect x="742.41" y="258.5" width="3.0" height="11.7" fill="#ff0000" stroke="#333" stroke-width="0.65"/>
<line x1="749.01" y1="261.2" x2="749.01" y2="272.7" stroke="#3a3232" stroke-width="1.1"/>
<rect x="747.51" y="263.5" width="3.0" height="7.1" fill="#0a7a0a" stroke="#333" stroke-width="0.65"/>
<line x1="754.11" y1="259.7" x2="754.11" y2="266.5" stroke="#3a3232" stroke-width="1.1"/>
<rect x="752.61" y="262.7" width="3.0" height="1.0" fill="#333333" stroke="#333" stroke-width="0.65"/>
<line x1="759.21" y1="242.7" x2="759.21" y2="267.7" stroke="#3a3232" stroke-width="1.1"/>
<rect x="757.71" y="252.5" width="3.0" height="10.2" fill="#0a7a0a" stroke="#333" stroke-width="0.65"/>
<line x1="764.30" y1="251.2" x2="764.30" y2="267.7" stroke="#3a3232" stroke-width="1.1"/>
<rect x="762.80" y="252.5" width="3.0" height="6.0" fill="#ff0000" stroke="#333" stroke-width="0.65"/>
<line x1="769.40" y1="256.2" x2="769.40" y2="271.5" stroke="#3a3232" stroke-width="1.1"/>
<rect x="767.90" y="258.5" width="3.0" height="4.6" fill="#ff0000" stroke="#333" stroke-width="0.65"/>
<line x1="774.50" y1="252.5" x2="774.50" y2="276.5" stroke="#3a3232" stroke-width="1.1"/>
<rect x="773.00" y="258.5" width="3.0" height="4.6" fill="#0a7a0a" stroke="#333" stroke-width="0.65"/>
<line x1="11" y1="156.5" x2="856" y2="156.5" stroke="#3f9a00" stroke-width="2.1"/>
<line x1="11" y1="188" x2="856" y2="188" stroke="#3f9a00" stroke-width="2.1"/>
<line x1="11" y1="318.6" x2="856" y2="318.6" stroke="#2f68e8" stroke-width="1.2"/>
<line x1="781.5" y1="258.5" x2="855" y2="258.5" stroke="#707070" stroke-width="1" stroke-dasharray="2.2 1.8"/>
<line x1="775" y1="276.6" x2="855" y2="276.6" stroke="#9dbbea" stroke-width="1.3" stroke-dasharray="2 2"/>
<line x1="779.3" y1="257.9" x2="843.5" y2="166.8" stroke="#2e5fa3" stroke-width="4.2"/>
<polygon points="851,156.8 837.6,163 849.5,171" fill="#2e5fa3"/>
<polygon points="854.3,156.4 860.6,148.6 925.6,148.6 925.6,164.2 860.6,164.2" fill="#3f9a00"/>
<text x="864.0" y="160.3" font-size="11" fill="#fff">77630</text>
<polygon points="854.3,188.1 860.6,180.3 925.6,180.3 925.6,195.9 860.6,195.9" fill="#3f9a00"/>
<text x="864.0" y="192.0" font-size="11" fill="#fff">76910</text>
<polygon points="854.3,258.5 860.6,251.2 925.6,251.2 925.6,265.8 860.6,265.8" fill="#333"/>
<text x="864.0" y="262.4" font-size="11" fill="#fff">75322</text>
<polygon points="854.3,318.6 860.6,311.3 925.6,311.3 925.6,325.9 860.6,325.9" fill="#1c5cf0"/>
<text x="864.0" y="321.8" font-size="11" fill="#fff">73960</text>
<text x="863.9" y="375.9" font-size="11" fill="#ff0d0d">72750</text>
<text x="863.9" y="407.9" font-size="11" fill="#ff0d0d">72030</text>
<line x1="1" y1="415.6" x2="928" y2="415.6" stroke="#f2f2f2" stroke-width="1" stroke-dasharray="2 1"/>
<line x1="1" y1="510.4" x2="928" y2="510.4" stroke="#f2f2f2" stroke-width="1" stroke-dasharray="2 1"/>
<line x1="11" y1="454.5" x2="852" y2="454.5" stroke="#999" stroke-width="1" stroke-dasharray="1 3"/>
<line x1="11" y1="476" x2="852" y2="476" stroke="#999" stroke-width="1" stroke-dasharray="1 3"/>
<line x1="11" y1="497.4" x2="852" y2="497.4" stroke="#999" stroke-width="1" stroke-dasharray="1 3"/>
<polyline points="15.0,468.7 25.0,463.7 32.5,455.0 41.2,447.0 46.2,446.2 50.7,443.2 56.2,446.7 61.2,446.2 65.7,443.7 68.7,447.5 76.2,463.2 80.4,460.4 86.9,466.2 92.4,466.2 101.1,463.2 112.4,464.9 117.4,463.2 124.9,464.4 131.1,467.4 137.4,473.7 142.4,472.9 147.4,469.9 152.3,471.2 157.3,468.7 163.6,470.4 168.6,467.9 173.6,468.7 178.6,472.9 183.6,478.7 188.6,477.4 194.8,472.9 202.3,472.9 207.3,475.4 212.3,474.4 217.3,474.9 222.3,478.7 229.0,488.7 232.0,486.9 234.5,486.2 239.5,491.2 244.5,490.4 249.5,496.2 257.0,500.4 264.5,501.2 269.5,496.2 275.0,493.2 280.7,496.7 289.4,493.7 295.7,487.9 304.4,489.9 310.7,492.4 316.9,497.4 325.7,499.9 331.9,503.2 336.9,503.2 341.9,500.4 346.9,501.2 351.9,496.9 356.9,494.4 361.9,495.4 366.9,489.4 371.9,493.7 376.9,486.2 381.9,485.7 388.1,491.2 391.8,493.7 396.8,489.9 403.1,494.2 408.1,490.4 413.1,494.4 418.1,492.9 426.8,492.4 433.1,481.2 438.0,482.4 443.8,486.9 449.3,487.4 454.3,492.9 458.0,493.7 464.0,504.3 468.5,489.9 474.0,491.9 479.0,488.2 484.0,491.9 489.0,494.2 494.0,491.2 509.0,471.2 514.4,473.2 519.4,470.7 524.7,459.9 530.2,463.9 540.2,461.2 545.2,463.7 550.2,469.4 555.2,477.4 560.2,482.9 565.1,485.7 570.9,495.4 580.1,495.4 586.4,488.2 591.4,488.2 596.4,492.4 601.4,494.9 605.9,491.2 611.4,497.4 616.8,503.2 621.3,499.4 626.3,501.9 631.8,502.4 636.8,489.2 641.8,487.4 646.8,486.9 652.6,479.2 657.6,481.9 662.5,482.9 671.8,476.7 677.5,479.9 682.5,478.7 687.5,487.4 693.8,483.7 696.0,483.1 699.0,480.2 703.5,470.2 708.0,464.4 713.6,472.7 719.8,473.5 723.6,475.2 728.6,469.5 733.6,468.5 738.6,463.9 743.7,470.2 748.7,467.7 754.2,467.2 759.2,463.2 764.2,466.5 769.2,469.5 775.0,467.2" fill="none" stroke="#7f9ce8" stroke-width="1" stroke-linejoin="round"/>
<path d="M15.0 463.2C17.5 463.0 25.6 462.0 30.0 461.9C34.4 461.8 37.9 463.1 41.2 462.4C44.5 461.6 46.9 459.1 50.0 457.4C53.1 455.7 56.7 453.5 60.0 452.0C63.3 450.5 66.7 448.5 70.0 448.2C73.3 447.9 75.8 448.7 80.0 450.0C84.2 451.3 89.5 453.9 94.9 456.2C100.3 458.5 106.6 462.2 112.4 463.7C118.2 465.1 123.8 464.3 130.0 464.9C136.2 465.5 142.4 466.5 149.9 467.4C157.4 468.3 166.5 469.6 174.8 470.4C183.1 471.2 192.3 471.6 199.8 472.4C207.3 473.1 214.4 474.1 219.8 474.9C225.2 475.7 227.9 476.2 232.0 477.4C236.1 478.6 240.3 480.0 244.5 481.9C248.7 483.8 253.2 486.7 257.0 488.7C260.8 490.7 263.2 492.4 267.0 493.7C270.8 494.9 275.4 495.7 279.5 496.2C283.6 496.7 288.2 497.0 291.9 496.7C295.6 496.4 298.6 495.1 301.9 494.4C305.2 493.7 307.7 492.5 311.9 492.4C316.1 492.3 322.3 492.9 326.9 493.7C331.5 494.4 335.6 496.0 339.4 496.9C343.1 497.8 346.1 498.8 349.4 499.2C352.7 499.6 355.6 499.7 359.4 499.4C363.1 499.1 367.7 498.3 371.9 497.4C376.1 496.4 380.2 494.7 384.4 493.7C388.5 492.7 392.6 491.9 396.8 491.4C401.0 490.9 404.3 490.5 409.3 490.7C414.3 490.9 421.8 492.5 426.8 492.4C431.8 492.3 435.1 490.5 439.3 489.9C443.5 489.3 448.5 489.0 451.8 488.9C455.1 488.8 457.3 488.9 459.3 489.2C461.3 489.4 461.6 490.2 464.0 490.4C466.4 490.6 470.7 490.1 474.0 490.4C477.3 490.7 480.7 491.9 484.0 492.4C487.3 492.9 491.1 493.4 494.0 493.2C496.9 493.0 499.0 492.2 501.5 491.2C504.0 490.1 506.1 488.4 509.0 486.9C511.9 485.4 515.7 484.2 519.0 482.4C522.3 480.6 525.7 478.3 529.0 476.2C532.3 474.1 535.7 471.5 539.0 469.9C542.3 468.3 546.1 466.9 549.0 466.4C551.9 465.9 553.7 466.3 556.4 466.9C559.1 467.5 562.2 468.2 565.1 469.9C568.0 471.6 570.8 474.6 573.9 476.9C577.0 479.2 580.6 481.6 583.9 483.7C587.2 485.8 590.6 487.8 593.9 489.2C597.2 490.6 600.6 491.6 603.9 492.4C607.2 493.1 610.6 493.3 613.9 493.7C617.2 494.1 620.5 494.4 623.8 494.9C627.1 495.4 630.5 496.7 633.8 496.9C637.1 497.1 640.5 496.9 643.8 496.2C647.1 495.5 650.5 494.0 653.8 492.9C657.1 491.8 660.5 490.8 663.8 489.4C667.1 488.0 670.9 485.6 673.8 484.4C676.7 483.1 677.6 482.3 681.3 481.9C685.0 481.5 691.5 482.7 696.0 482.1C700.5 481.5 704.3 479.4 708.5 478.5C712.7 477.6 717.6 477.2 721.0 476.7C724.4 476.1 725.5 476.1 728.6 475.2C731.8 474.2 736.5 471.9 739.9 471.0C743.2 470.1 746.2 469.9 748.7 469.7C751.2 469.5 752.5 469.9 755.0 469.7C757.5 469.4 760.4 468.6 763.7 468.2C767.0 467.8 773.1 467.4 775.0 467.2" fill="none" stroke="#ff4545" stroke-width="1.05"/>
<line x1="776" y1="467.2" x2="855" y2="467.2" stroke="#9db4ee" stroke-width="1.1" stroke-dasharray="2 2"/>
<text x="864.3" y="457.9" font-size="11" fill="#777">70</text>
<text x="864.3" y="479.9" font-size="11" fill="#777">50</text>
<text x="864.3" y="501.2" font-size="11" fill="#777">30</text>
<path d="M15.0 566.9C16.7 566.7 21.7 566.8 25.0 565.7C28.3 564.6 32.1 562.5 35.0 560.4C37.9 558.3 39.8 555.6 42.5 553.0C45.2 550.4 48.3 547.0 51.2 545.0C54.1 543.0 57.4 541.9 59.9 540.7C62.4 539.5 64.3 538.5 66.2 538.0C68.1 537.5 69.3 537.5 71.2 538.0C73.1 538.5 75.1 540.2 77.4 541.2C79.7 542.2 82.0 543.0 84.9 544.2C87.8 545.5 90.3 547.1 94.9 548.7C99.5 550.3 106.6 552.1 112.4 553.7C118.2 555.3 124.9 556.6 129.9 558.2C134.9 559.8 138.2 561.9 142.4 563.2C146.6 564.5 149.4 565.3 154.8 566.2C160.2 567.1 169.4 567.8 174.8 568.7C180.2 569.7 182.3 571.1 187.3 571.9C192.3 572.7 199.4 573.1 204.8 573.7C210.2 574.3 215.3 574.6 219.8 575.4C224.3 576.2 227.9 577.3 232.0 578.4C236.1 579.5 240.3 580.5 244.5 581.9C248.7 583.3 253.7 585.7 257.0 586.9C260.3 588.1 261.2 588.7 264.5 589.2C267.8 589.7 273.2 589.7 277.0 589.9C280.8 590.1 283.7 590.4 287.0 590.2C290.3 590.0 293.3 589.1 297.0 588.7C300.7 588.3 305.2 587.7 309.4 587.7C313.6 587.7 318.2 588.3 322.0 588.7C325.8 589.1 328.3 589.9 332.0 590.2C335.7 590.5 340.2 590.8 344.4 590.7C348.6 590.7 352.8 590.3 357.0 589.9C361.2 589.5 365.2 589.0 369.4 588.4C373.6 587.8 377.9 586.8 382.0 586.4C386.1 586.0 390.2 586.2 394.3 586.2C398.4 586.2 402.6 586.2 406.8 586.2C411.0 586.2 415.6 586.3 419.3 586.2C423.1 586.1 426.0 586.1 429.3 585.7C432.6 585.3 436.0 584.3 439.3 583.9C442.6 583.5 446.4 583.4 449.3 583.4C452.2 583.4 454.4 583.5 456.8 583.9C459.2 584.3 460.7 585.3 464.0 585.7C467.3 586.1 472.3 586.1 476.5 586.4C480.7 586.7 485.2 587.3 489.0 587.4C492.8 587.5 495.7 587.6 499.0 586.9C502.3 586.2 505.7 584.4 509.0 583.4C512.3 582.4 516.1 581.8 519.0 580.7C521.9 579.6 523.5 578.1 526.4 576.9C529.3 575.7 533.5 574.5 536.4 573.7C539.3 572.9 541.6 572.5 543.9 572.2C546.2 572.0 547.9 571.9 550.2 572.2C552.5 572.5 555.2 573.4 557.7 574.2C560.2 575.0 562.4 575.9 565.1 577.2C567.8 578.5 571.2 580.6 573.9 581.9C576.6 583.2 578.5 584.2 581.4 584.9C584.3 585.6 588.1 585.3 591.4 585.9C594.7 586.5 598.7 587.7 601.4 588.2C604.1 588.7 605.1 588.1 607.6 588.9C610.1 589.7 613.2 592.0 616.3 593.2C619.4 594.5 623.6 595.6 626.3 596.4C629.0 597.2 630.5 597.8 632.6 597.9C634.7 598.0 636.1 597.5 638.8 596.9C641.5 596.3 645.5 595.3 648.8 594.4C652.1 593.5 655.5 592.2 658.8 591.2C662.1 590.2 665.9 589.5 668.8 588.7C671.7 587.9 674.0 587.0 676.3 586.4C678.6 585.8 680.4 585.3 682.5 585.2C684.6 585.1 686.5 585.8 688.8 585.9C691.0 586.0 694.0 585.9 696.0 585.6C698.0 585.3 698.9 585.3 701.0 584.3C703.1 583.3 706.0 580.7 708.5 579.7C711.0 578.7 713.5 578.9 716.0 578.5C718.5 578.1 721.1 578.0 723.6 577.5C726.1 577.0 728.6 576.2 731.1 575.5C733.6 574.8 736.1 573.8 738.6 573.2C741.1 572.7 743.7 572.6 746.2 572.2C748.7 571.8 751.4 571.4 753.7 571.0C756.0 570.6 756.5 570.0 760.0 569.7C763.5 569.5 772.5 569.5 775.0 569.5" fill="none" stroke="#7f9ce8" stroke-width="1"/>
<path d="M15.0 569.4C16.7 569.2 21.7 568.8 25.0 568.2C28.3 567.6 31.7 566.9 35.0 565.7C38.3 564.5 41.7 562.9 45.0 561.2C48.3 559.5 51.7 557.3 55.0 555.4C58.3 553.5 62.1 551.5 65.0 550.0C67.9 548.5 69.9 547.5 72.4 546.7C74.9 545.9 77.4 545.3 79.9 545.0C82.4 544.7 84.1 544.7 87.4 545.0C90.7 545.3 95.7 546.2 99.9 547.0C104.1 547.8 107.4 548.5 112.4 549.5C117.4 550.5 123.7 551.6 129.9 553.2C136.2 554.9 143.2 557.6 149.9 559.4C156.6 561.2 163.2 562.7 169.8 564.2C176.5 565.8 183.1 567.5 189.8 568.7C196.5 570.0 204.0 571.0 209.8 571.7C215.6 572.5 221.1 572.7 224.8 573.2C228.5 573.7 228.7 574.1 232.0 574.8C235.3 575.5 240.3 576.4 244.5 577.4C248.7 578.4 252.8 579.6 257.0 580.7C261.2 581.8 265.3 583.0 269.5 583.9C273.7 584.8 277.9 585.8 282.0 586.4C286.1 587.0 290.2 587.4 294.4 587.7C298.6 588.0 302.8 588.1 307.0 588.2C311.2 588.3 315.2 588.2 319.4 588.4C323.6 588.6 327.8 589.0 332.0 589.2C336.2 589.5 340.2 589.8 344.4 589.9C348.6 590.0 352.8 590.0 357.0 589.9C361.2 589.8 365.2 589.5 369.4 589.2C373.6 588.9 377.9 588.5 382.0 588.2C386.1 587.9 390.2 587.6 394.3 587.4C398.4 587.2 402.6 587.1 406.8 586.9C411.0 586.7 415.1 586.6 419.3 586.4C423.5 586.2 427.6 586.1 431.8 585.9C436.0 585.7 440.1 585.4 444.3 585.2C448.5 585.0 453.5 584.7 456.8 584.7C460.1 584.7 460.7 585.1 464.0 585.3C467.3 585.5 472.3 585.5 476.5 585.7C480.7 585.9 484.8 586.3 489.0 586.4C493.2 586.5 497.3 586.7 501.5 586.4C505.7 586.1 509.9 585.5 514.0 584.7C518.1 584.0 522.2 582.9 526.4 581.9C530.6 580.9 535.2 579.6 539.0 578.7C542.8 577.8 545.7 577.2 549.0 576.7C552.3 576.2 555.7 575.7 559.0 575.7C562.3 575.7 565.3 576.0 569.0 576.7C572.7 577.4 577.2 578.8 581.4 579.7C585.5 580.7 589.3 581.5 593.9 582.4C598.5 583.3 604.3 584.3 608.9 585.4C613.5 586.5 617.6 587.8 621.3 588.9C625.0 590.0 628.4 591.0 631.3 591.7C634.2 592.4 636.3 592.9 638.8 593.2C641.3 593.5 643.0 593.7 646.3 593.7C649.6 593.7 654.6 593.6 658.8 593.2C663.0 592.8 667.1 591.9 671.3 591.2C675.5 590.5 679.7 589.5 683.8 588.9C687.9 588.3 693.1 587.9 696.0 587.6C698.9 587.3 698.5 587.8 701.0 587.3C703.5 586.8 707.7 585.2 711.0 584.3C714.3 583.4 717.2 582.6 721.0 581.7C724.8 580.8 729.4 579.9 733.6 579.0C737.8 578.1 742.0 577.1 746.2 576.2C750.4 575.3 755.0 574.4 758.7 573.7C762.5 573.0 766.1 572.5 768.7 572.2C771.3 571.9 773.4 571.8 774.3 571.7" fill="none" stroke="#5aa81e" stroke-width="1"/>
<line x1="776" y1="569.3" x2="855" y2="569.3" stroke="#9db4ee" stroke-width="1.1" stroke-dasharray="2 2"/>
<text x="864.3" y="556.3" font-size="11" fill="#777">500</text>
<text x="864.3" y="580.8" font-size="11" fill="#777">0</text>
<line x1="10.5" y1="600" x2="855.5" y2="600" stroke="#a0a0a0" stroke-width="2"/>
<line x1="11" y1="600" x2="11" y2="606" stroke="#a0a0a0" stroke-width="1.2"/>
<line x1="855" y1="600" x2="855" y2="606" stroke="#a0a0a0" stroke-width="1.2"/>
<text x="147.7" y="616.8" font-size="11" fill="#777" text-anchor="middle">Apr 18</text>
<text x="392.3" y="616.8" font-size="11" fill="#777" text-anchor="middle">Apr 19</text>
<text x="637.2" y="616.8" font-size="11" fill="#777" text-anchor="middle">Apr 20</text>
<text x="779.2" y="616.8" font-size="11" fill="#777" text-anchor="middle">Apr 21</text>
<text x="845.8" y="616.8" font-size="11" fill="#777" text-anchor="middle">May 4</text>
<rect x="13.7" y="84.6" width="12.5" height="4" fill="#ff8080"/>
<text x="33.2" y="90.19999999999999" font-size="10" fill="#777">MA 20 + Bollinger Bands</text>
<rect x="156.1" y="84.6" width="12.5" height="4" fill="#2e5fa3"/>
<text x="175.6" y="90.19999999999999" font-size="10" fill="#777">MA 50</text>
<rect x="13.7" y="428.6" width="12.5" height="4" fill="#5b7fe3"/>
<text x="33.2" y="434.20000000000005" font-size="10" fill="#777">RSI</text>
<rect x="62" y="428.6" width="12.5" height="4" fill="#ff0000"/>
<text x="81.5" y="434.20000000000005" font-size="10" fill="#777">9MA</text>
<rect x="13.7" y="523.6" width="12.5" height="4" fill="#5b7fe3"/>
<text x="33.2" y="529.2" font-size="10" fill="#777">MACD</text>
<rect x="75.4" y="523.6" width="12.5" height="4" fill="#3f9a00"/>
<text x="94.9" y="529.2" font-size="10" fill="#777">MACD Signal</text>
<text x="920" y="90.1" font-size="10" fill="#a6a6a6" text-anchor="end">Research © 2026 Trading Central</text>
</svg>
</body></html>
